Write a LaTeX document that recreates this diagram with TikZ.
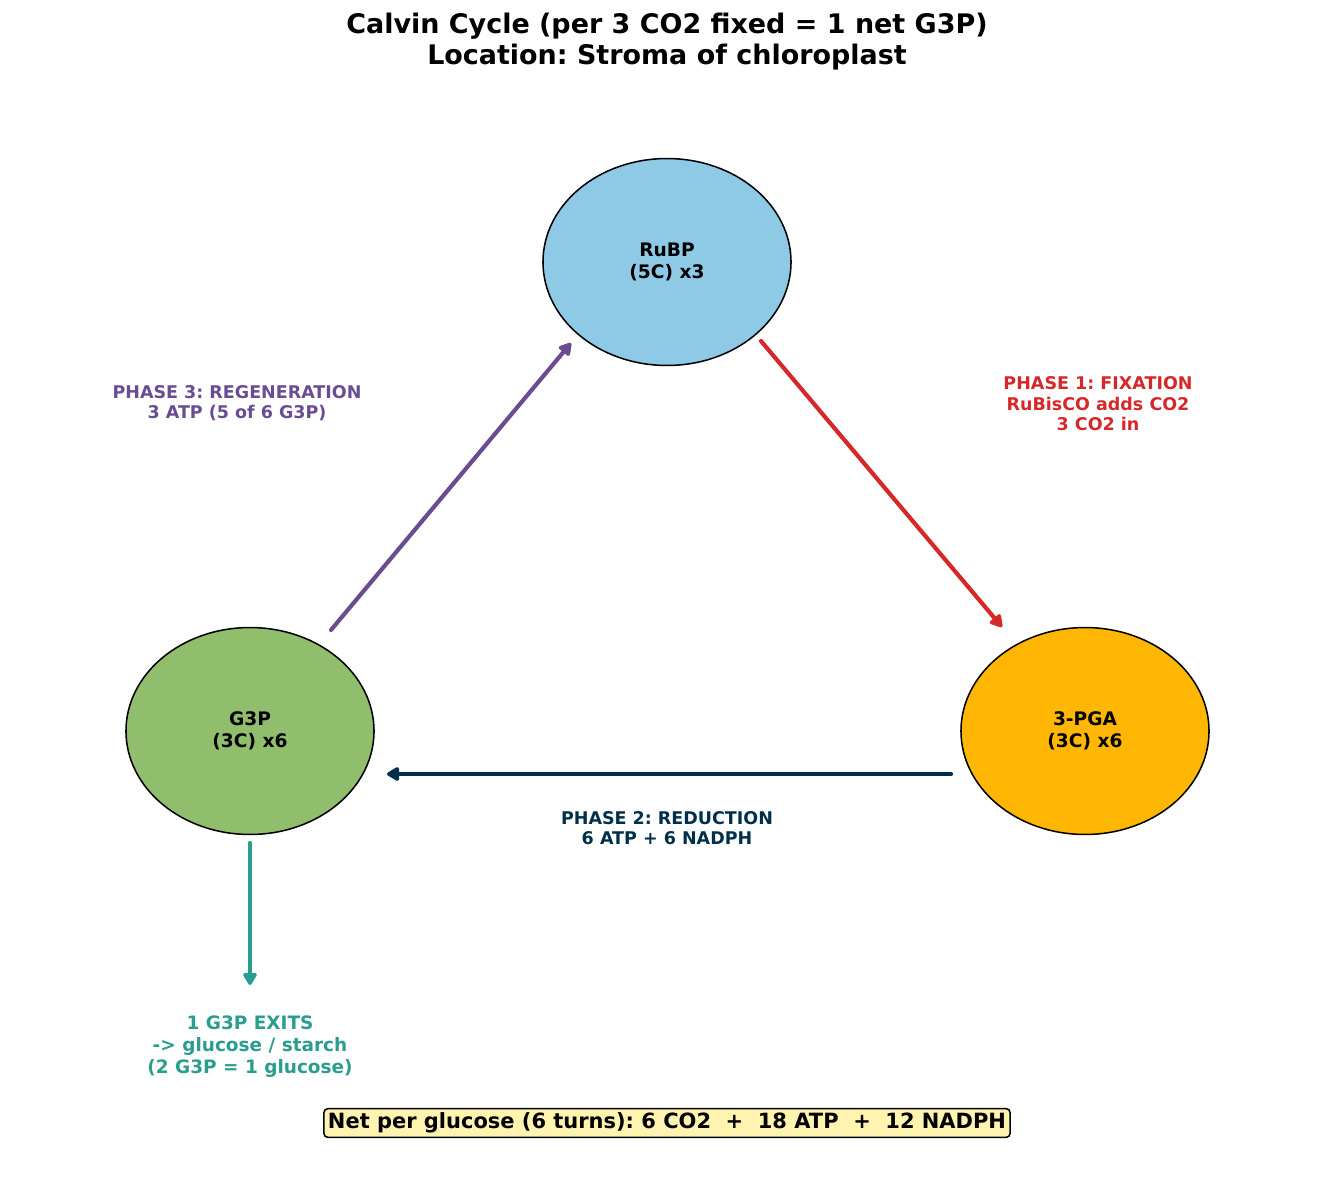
\documentclass[tikz,border=0pt]{standalone}
\usepackage{fontspec}
\setmainfont{DejaVu Sans}
\frenchspacing
\usetikzlibrary{
    arrows.meta,      % arrow tips
    shapes.geometric, % ellipse nodes
    calc
}

\definecolor{rubpblue}{HTML}{8ECAE6}
\definecolor{gthreegreen}{HTML}{90BE6D}
\definecolor{pgaorange}{HTML}{FFB703}
\definecolor{fixred}{HTML}{D62828}
\definecolor{redpurple}{HTML}{6A4C93}
\definecolor{reduxnavy}{HTML}{003049}
\definecolor{exitteal}{HTML}{2A9D8F}
\definecolor{netyellow}{HTML}{FFF3B0}

\begin{document}
\begin{tikzpicture}[
        x=0.72pt, y=-0.72pt,
        stage/.style={
            ellipse,
            draw=black,
            line width=1.1pt,
            minimum width=178.6pt,
            minimum height=149pt,
            inner sep=0pt,
            align=center,
            fill=#1,
            font=\fontsize{13.4}{15.8}\selectfont\bfseries
        },
        stage/.default=rubpblue,
        phase/.style={
            align=center,
            text=#1,
            font=\fontsize{12.6}{14.8}\selectfont\bfseries
        },
        flow/.style={
            draw=#1,
            line width=3pt,
            line cap=round,
            -{Triangle[length=10pt,width=11pt,round]}
        }
    ]
    \useasboundingbox (0,0) rectangle (1335,1182);

    % title
    \node[align=center, font=\fontsize{19.4}{22.3}\selectfont\bfseries] (title) at (667,42)
        {Calvin Cycle (per 3 CO2 fixed = 1 net G3P)\\Location: Stroma of chloroplast};

    % the three pools of the cycle
    \node[stage=rubpblue] (rubp) at (667,262) {RuBP\\(5C) x3};
    \node[stage=gthreegreen] (g3p) at (250,731) {G3P\\(3C) x6};
    \node[stage=pgaorange] (pga) at (1085,731) {3-PGA\\(3C) x6};

    % arrow ends, off the ellipse borders
    \coordinate (fix-a) at ([shift={(94,79)}]rubp.center);
    \coordinate (fix-b) at ([shift={(-83,-104)}]pga.center);
    \coordinate (red-a) at ([shift={(-134,43)}]pga.center);
    \coordinate (red-b) at ([shift={(137,43)}]g3p.center);
    \coordinate (reg-a) at ([shift={(81,-101)}]g3p.center);
    \coordinate (reg-b) at ([shift={(-96,81)}]rubp.center);
    \coordinate (exit-a) at ([shift={(0,112)}]g3p.center);
    \coordinate (exit-b) at ([shift={(0,254)}]g3p.center);

    % arrows
    \draw[flow=fixred] (fix-a) -- (fix-b);
    \draw[flow=reduxnavy] (red-a) -- (red-b);
    \draw[flow=redpurple] (reg-a) -- (reg-b);
    \draw[flow=exitteal] (exit-a) -- (exit-b);

    % phase labels
    \node[phase=fixred] (fixlabel) at (1098,404) {PHASE 1: FIXATION\\RuBisCO adds CO2\\3 CO2 in};
    \node[phase=reduxnavy] (redlabel) at (667,828) {PHASE 2: REDUCTION\\6 ATP + 6 NADPH};
    \node[phase=redpurple] (reglabel) at (237,403) {PHASE 3: REGENERATION\\3 ATP (5 of 6 G3P)};
    \node[align=center, text=exitteal, font=\fontsize{13.3}{15.8}\selectfont\bfseries] (exitlabel) at (250,1047)
        {1 G3P EXITS\\-> glucose / starch\\(2 G3P = 1 glucose)};

    % net balance
    \node[draw=black, line width=1.1pt, rounded corners=3pt, fill=netyellow,
          inner xsep=3pt, inner ysep=3pt, font=\fontsize{15.1}{18}\selectfont\bfseries] (net) at (667,1123)
        {Net per glucose (6 turns): 6 CO2\ \ +\ \ 18 ATP\ \ +\ \ 12 NADPH};
\end{tikzpicture}
\end{document}
